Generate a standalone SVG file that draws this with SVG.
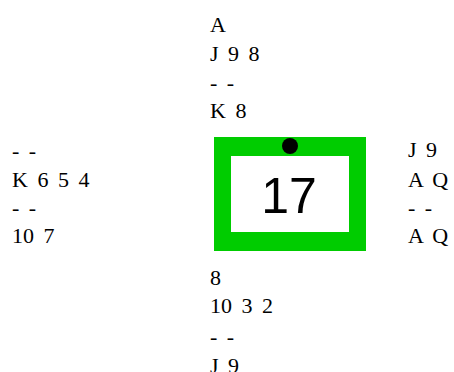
<svg xmlns="http://www.w3.org/2000/svg" width="454" height="372" viewBox="0 0 454 372">
<style>
.h{font-family:"Liberation Serif","Times New Roman",serif;font-size:22px;fill:#000;word-spacing:4px}
.n{font-family:"Liberation Sans",Arial,sans-serif;font-size:50px;fill:#000}
</style>
<rect width="454" height="372" fill="#fff"/>
<g id="north">
<text class="h" x="210" y="32">A</text>
<text class="h" x="210" y="61">J 9 8</text>
<text class="h" x="210" y="90">- -</text>
<text class="h" x="210" y="118">K 8</text>
</g>
<g id="west">
<text class="h" x="12" y="158">- -</text>
<text class="h" x="12" y="187">K 6 5 4</text>
<text class="h" x="12" y="215">- -</text>
<text class="h" x="12" y="243">10 7</text>
</g>
<g id="east">
<text class="h" x="408" y="157">J 9</text>
<text class="h" x="408" y="187">A Q</text>
<text class="h" x="408" y="215">- -</text>
<text class="h" x="408" y="243">A Q</text>
</g>
<g id="south">
<text class="h" x="210" y="285">8</text>
<text class="h" x="210" y="313">10 3 2</text>
<text class="h" x="210" y="344">- -</text>
<text class="h" x="210" y="373">J 9</text>
</g>
<g id="board">
<rect x="214" y="137" width="152" height="114" fill="#00cc00"/>
<rect x="231" y="156" width="118" height="76" fill="#fff"/>
<circle cx="290" cy="146" r="8" fill="#000"/>
<text class="n" x="289" y="213" text-anchor="middle">17</text>
</g>
<g id="connectors"/>
</svg>
